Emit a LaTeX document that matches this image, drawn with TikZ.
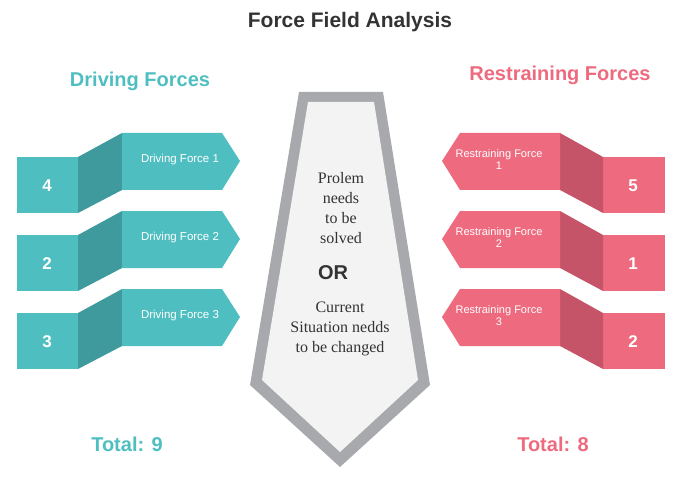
\documentclass[tikz,border=0pt]{standalone}
\usepackage{fontspec}
\setmainfont{Liberation Sans}
\newfontfamily\serifx{Liberation Serif}
\definecolor{teal1}{HTML}{4FBEC1}
\definecolor{teal2}{HTML}{3F9A9D}
\definecolor{pink1}{HTML}{EE6A7E}
\definecolor{pink2}{HTML}{C65468}
\definecolor{tieg}{HTML}{A7A9AC}
\definecolor{tiein}{HTML}{F3F3F3}
\definecolor{titc}{HTML}{333333}
\begin{document}
\begin{tikzpicture}[x=1pt,y=-1pt,
  lbl/.style={text=white,font=\fontsize{11.5}{12}\selectfont},
  num/.style={text=white,font=\bfseries\fontsize{17}{19}\selectfont},
  head/.style={font=\bfseries\fontsize{20}{22}\selectfont}]
\useasboundingbox (0,0) rectangle (700,478);
\node[font=\bfseries\fontsize{21}{24}\selectfont,text=titc] (title) at (350,22) {Force Field Analysis};
\node[head,text=teal1] (dh) at (140,81) {Driving Forces};
\node[head,text=pink1] (rh) at (560,75) {Restraining Forces};
\node[head,text=teal1] (dt) at (127,444) {Total: 9};
\node[head,text=pink1] (rt) at (553,444) {Total: 8};
% tie
\fill[tieg] (299,92) -- (383,92) -- (430,385) -- (340,467) -- (250,385) -- cycle;
\fill[tiein] (308,102) -- (374,102) -- (418,380) -- (340,452) -- (262,380) -- cycle;
\node[align=center,text=titc,font=\serifx\fontsize{16}{20}\selectfont] (t1) at (341,208) {Prolem\\needs\\to be\\solved};
\node[font=\bfseries\fontsize{20}{22}\selectfont,text=titc] (or) at (333,273) {OR};
\node[align=center,text=titc,font=\serifx\fontsize{16}{20}\selectfont] (t2) at (340,329) {Current\\Situation nedds\\to be changed};
% left
\foreach \d/\n/\k in {0/4/1,78/2/2,156/3/3}{
  \fill[teal1] (17,157+\d) rectangle (78,213+\d);
  \fill[teal2] (78,157+\d) -- (122,133+\d) -- (122,190+\d) -- (78,213+\d) -- cycle;
  \fill[teal1] (122,133+\d) -- (222,133+\d) -- (240,161+\d) -- (222,190+\d) -- (122,190+\d) -- cycle;
  \node[num] (ln\k) at (47,186+\d) {\n};
  \node[lbl] (ll\k) at (180,160+\d) {Driving Force \k};
}
% right
\foreach \d/\n/\k in {0/5/1,78/1/2,156/2/3}{
  \fill[pink1] (603,157+\d) rectangle (665,213+\d);
  \fill[pink2] (603,157+\d) -- (560,133+\d) -- (560,190+\d) -- (603,213+\d) -- cycle;
  \fill[pink1] (560,133+\d) -- (460,133+\d) -- (442,161+\d) -- (460,190+\d) -- (560,190+\d) -- cycle;
  \node[num] (rn\k) at (633,186+\d) {\n};
  \node[lbl,align=center,font=\fontsize{11}{12}\selectfont] (rl\k) at (499,160+\d) {Restraining Force\\\k};
}
\end{tikzpicture}
\end{document}
